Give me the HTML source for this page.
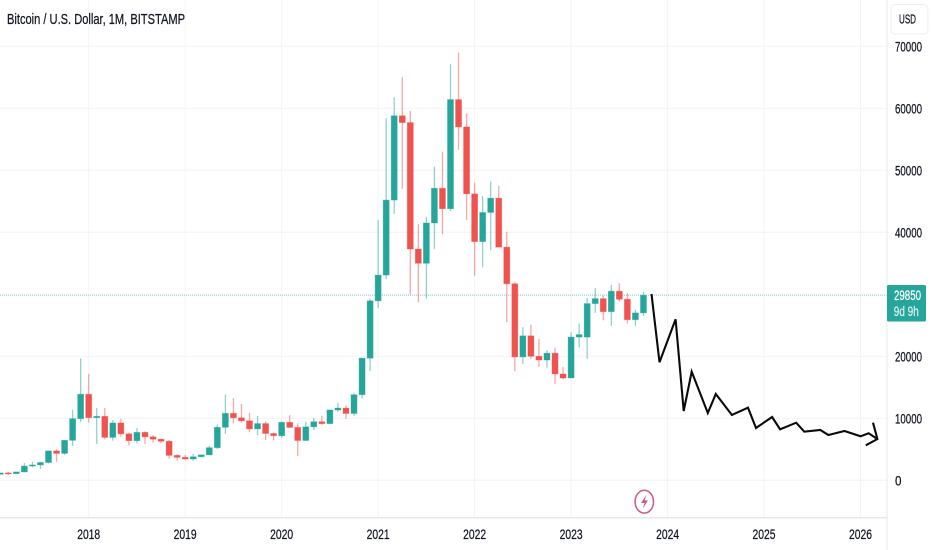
<!DOCTYPE html>
<html>
<head>
<meta charset="utf-8">
<title>Bitcoin / U.S. Dollar monthly chart</title>
<style>
html,body{margin:0;padding:0;background:#fff;width:932px;height:550px;overflow:hidden}
svg{display:block;font-family:"Liberation Sans",sans-serif}
text{stroke-width:0.25px;filter:blur(0.3px)}
</style>
</head>
<body>
<svg id="chart" width="932" height="550" viewBox="0 0 932 550" xmlns="http://www.w3.org/2000/svg">
<rect x="0" y="0" width="932" height="550" fill="#ffffff"/>
<g id="grid"></g>
<g id="priceline"></g>
<g id="candles" style="filter:blur(0.35px)"></g>
<g id="forecast"></g>
<rect x="886.5" y="0" width="1" height="550" fill="#e6e8ee"/>
<rect x="0" y="517" width="887" height="1.5" fill="#e6e8ee"/>
<g id="yaxis"></g>
<g id="xaxis"></g>
<text x="7" y="24" font-size="14.5" fill="#131722" stroke="#131722" textLength="178" lengthAdjust="spacingAndGlyphs">Bitcoin / U.S. Dollar, 1M, BITSTAMP</text>
<g>
<rect x="891" y="4.5" width="37" height="29.5" rx="4" fill="#ffffff" stroke="#eceef2"/>
<text x="907.5" y="23.5" font-size="13" fill="#131722" stroke="#131722" text-anchor="middle" textLength="17" lengthAdjust="spacingAndGlyphs">USD</text>
</g>
<g>
<rect x="887" y="285" width="39" height="36.5" rx="1.5" fill="#26a69a"/>
<text id="lastPriceText" x="907.5" y="300" font-size="14" fill="#ffffff" stroke="#ffffff" text-anchor="middle" textLength="27" lengthAdjust="spacingAndGlyphs">29850</text>
<text x="906.3" y="316" font-size="14" fill="#d8f0ed" stroke="#d8f0ed" text-anchor="middle" textLength="25" lengthAdjust="spacingAndGlyphs">9d 9h</text>
</g>
<g>
<ellipse cx="644.3" cy="501.7" rx="9.2" ry="11.4" fill="#ffffff" stroke="#cf5b82" stroke-width="1.5"/>
<path d="M646.5 494.5 L641 503 L644.6 503 L642.6 509 L648 500.4 L644.6 500.4 Z" fill="#cf5b82"/>
</g>
</svg>
<script>
var months = ["2017-02","2017-03","2017-04","2017-05","2017-06","2017-07","2017-08","2017-09","2017-10","2017-11","2017-12",
"2018-01","2018-02","2018-03","2018-04","2018-05","2018-06","2018-07","2018-08","2018-09","2018-10","2018-11","2018-12",
"2019-01","2019-02","2019-03","2019-04","2019-05","2019-06","2019-07","2019-08","2019-09","2019-10","2019-11","2019-12",
"2020-01","2020-02","2020-03","2020-04","2020-05","2020-06","2020-07","2020-08","2020-09","2020-10","2020-11","2020-12",
"2021-01","2021-02","2021-03","2021-04","2021-05","2021-06","2021-07","2021-08","2021-09","2021-10","2021-11","2021-12",
"2022-01","2022-02","2022-03","2022-04","2022-05","2022-06","2022-07","2022-08","2022-09","2022-10","2022-11","2022-12",
"2023-01","2023-02","2023-03","2023-04","2023-05","2023-06","2023-07","2023-08","2023-09","2023-10"];
var opens = [970,1190,1080,1350,2300,2480,2870,4740,4340,6450,9940,
13880,10110,10320,6925,9245,7495,6390,7730,7010,6625,6300,4020,
3700,3430,3800,4100,5260,8550,10800,10080,9600,8290,9150,7550,
7190,9350,8530,6420,8620,9450,9140,11340,11650,10780,13800,19700,
28950,33100,45200,58800,57700,37300,35000,41500,47100,43800,61400,57000,
46200,38500,43200,45500,37600,31700,19900,23300,20000,19400,20500,17150,
16500,23100,23100,28500,29300,27200,30500,29200,25900,27000];
var highs = [1200,1350,1360,2780,3000,3000,4800,5000,6500,11350,19660,
17170,11660,11660,9730,9940,7680,8450,7900,7300,6700,6500,4190,
4080,4240,4150,5580,9030,13850,13250,12300,10900,10370,9500,7700,
9500,10500,9190,9470,10100,10400,11440,12480,12080,14100,19800,29300,
41950,58400,61800,65000,59600,41300,42500,50600,53000,67100,69000,59200,
48000,45800,48200,47500,40100,32000,24700,25100,22800,21000,21400,18300,
23900,25300,29400,31000,29800,31500,31800,30200,27500,30400];
var lows = [930,880,1060,1300,2100,1830,2700,3000,4100,5550,9400,
9300,5850,6600,6390,7030,5640,5970,5850,6070,5970,3480,3160,
3340,3160,3700,4050,5050,7500,9250,9300,7750,7250,6500,6450,
6850,8450,3900,6350,8100,8900,9000,11000,9900,10400,13200,17600,
27800,32400,43000,47000,30000,28700,29300,37300,39700,43400,53300,42000,
33000,34400,37100,37600,25500,17600,18800,19600,18300,18200,15500,16300,
16500,21400,19600,27000,25800,24900,28900,25300,24900,26500];
var closes = [1190,1080,1350,2300,2480,2870,4740,4340,6450,9940,13880,
10110,10320,6925,9245,7495,6390,7730,7010,6625,6300,4020,3700,
3430,3800,4100,5260,8550,10800,10080,9600,8290,9150,7550,7190,
9350,8530,6420,8620,9450,9140,11340,11650,10780,13800,19700,28950,
33100,45200,58800,57700,37300,35000,41500,47100,43800,61400,57000,46200,
38500,43200,45500,37600,31700,19900,23300,20000,19400,20500,17150,16500,
23100,23500,28500,29300,27200,30500,29200,25900,27000,29850];

var forecastMonths = [70,71,73,74,75,77,78,80,82,83,85,86,88,89,91,92,94,96,97,98.1];
var forecastPrices = [30050,19030,25960,11180,17520,10860,13920,10530,11710,8440,10210,8220,9290,7840,8110,7300,7950,7090,7580,6660];
var arrowMonths = [97.55,98.1,96.65];
var arrowPrices = [9290,6660,5640];

var priceTicks = [0,10000,20000,30000,40000,50000,60000,70000];
var priceTickLabels = ["0","10000","20000","","40000","50000","60000","70000"];
var yearTicks = ["2018","2019","2020","2021","2022","2023","2024","2025","2026"];
var lastPrice = 29850;

var NS = "http://www.w3.org/2000/svg";
function xScale(monthIndex){ return 88.7 + monthIndex * 8.04; }
function yScale(price){ return 480.3 - price * 0.0062; }
function monthIndexOf(label){
  var parts = label.split("-");
  return (parseInt(parts[0],10) - 2018) * 12 + parseInt(parts[1],10) - 1;
}
function mk(tag, attrs, parent){
  var el = document.createElementNS(NS, tag);
  for (var k in attrs) el.setAttribute(k, attrs[k]);
  parent.appendChild(el);
  return el;
}

var gridG = document.getElementById("grid");
priceTicks.forEach(function(p){
  var line = mk("line", {x1:0, x2:887, y1:yScale(p), y2:yScale(p), stroke:"#f3f4f7", "stroke-width":1}, gridG);
  
  
});
yearTicks.forEach(function(y){
  var x = xScale(monthIndexOf(y + "-01"));
  var line = mk("line", {x1:x, x2:x, y1:0, y2:517, stroke:"#f3f4f7", "stroke-width":1}, gridG);
  
  
});

var plG = document.getElementById("priceline");
var pl = mk("line", {x1:0, x2:887, y1:yScale(lastPrice), y2:yScale(lastPrice), stroke:"#8fd0ca", "stroke-width":1, "stroke-dasharray":"1 1"}, plG);



var cG = document.getElementById("candles");
months.forEach(function(m, i){
  var x = xScale(monthIndexOf(m));
  var up = closes[i] >= opens[i];
  var col = up ? "#26a69a" : "#ef5350";
  var wick = mk("line", {x1:x, x2:x, y1:yScale(highs[i]), y2:yScale(lows[i]), stroke:col, "stroke-width":1.3, "stroke-opacity":0.5}, cG);
  
  
  var top = yScale(Math.max(opens[i], closes[i]));
  var bot = yScale(Math.min(opens[i], closes[i]));
  var body = mk("rect", {x:x-3, y:top, width:6, height:Math.max(bot-top,1), fill:col, stroke:col, "stroke-width":0.8, "stroke-opacity":0.45}, cG);
  
  
});

var fG = document.getElementById("forecast");
function pointsOf(ms, ps){
  return ms.map(function(m, i){ return xScale(m).toFixed(1) + "," + yScale(ps[i]).toFixed(1); }).join(" ");
}
var fl = mk("polyline", {points:pointsOf(forecastMonths, forecastPrices), fill:"none", stroke:"#0a0a0a", "stroke-width":2.1, "stroke-linejoin":"miter"}, fG);


var ar = mk("polyline", {points:pointsOf(arrowMonths, arrowPrices), fill:"none", stroke:"#0a0a0a", "stroke-width":2.1}, fG);



var yG = document.getElementById("yaxis");
priceTicks.forEach(function(p, i){
  if (!priceTickLabels[i]) return;
  var len = priceTickLabels[i].length === 1 ? 6.5 : 27;
  var t = mk("text", {x:895, y:yScale(p)+5, "font-size":13.5, fill:"#131722", stroke:"#131722", textLength:len, lengthAdjust:"spacingAndGlyphs"}, yG);
  t.textContent = priceTickLabels[i];
  
  
});

var xG = document.getElementById("xaxis");
yearTicks.forEach(function(y){
  var t = mk("text", {x:xScale(monthIndexOf(y + "-01")), y:539, "font-size":14, fill:"#131722", stroke:"#131722", "text-anchor":"middle", textLength:23, lengthAdjust:"spacingAndGlyphs"}, xG);
  t.textContent = y;
  
  
});
</script>
</body>
</html>
